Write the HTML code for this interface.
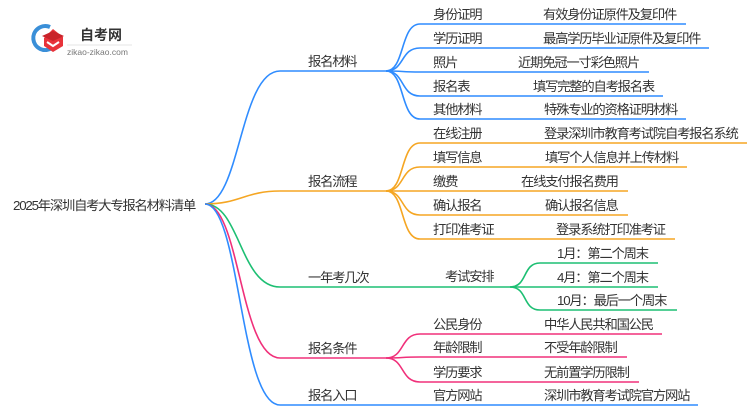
<!DOCTYPE html>
<html><head><meta charset="utf-8"><style>
html,body{margin:0;padding:0;background:#fff;}
svg{display:block;}
text{font-family:"Liberation Sans","Noto Sans CJK SC",sans-serif;font-size:13.3px;letter-spacing:-1.2px;fill:#333;}
</style></head><body>
<svg width="750" height="410" viewBox="0 0 750 410" xmlns="http://www.w3.org/2000/svg">
<!-- logo -->
<path d="M50 27 A12 12 0 1 0 52 48" fill="none" stroke="#3a8fd8" stroke-width="4"/>
<path d="M44 38 L53 29 L63 37 L63 46 L53 52 L44 46 Z" fill="#e8333a"/>
<path d="M42 36 L53 31 L64 36 L53 41 Z" fill="#c9232a"/>
<path d="M47 42 L53 46 L59 42" fill="none" stroke="#fff" stroke-width="2"/>
<text x="80" y="40" style="font-size:14px;letter-spacing:0;font-weight:bold;fill:#333">自考网</text>
<line x1="67" y1="45" x2="132" y2="45" stroke="#ddd" stroke-width="0.8"/>
<text x="67" y="55" style="font-size:8.5px;letter-spacing:0;fill:#777">zikao-zikao.com</text>

<g fill="none" stroke-width="1.6">
<path d="M205 204 C240 204 240 71 280 71 L386 71" stroke="#2f8cff"/>
<path d="M205 204 C240 204 245 191 280 191 L386 191" stroke="#f5a623"/>
<path d="M205 204 C240 204 240 287 280 287 L510 287" stroke="#1dbf73"/>
<path d="M205 204 C240 204 240 358 280 358 L386 358" stroke="#f0307a"/>
<path d="M205 204 C240 204 240 405 280 405 L698 405" stroke="#2f8cff"/>
<g stroke="#2f8cff">
<path d="M386 71 C405 71 400 24 420 24 L686 24"/>
<path d="M386 71 C405 71 400 48 420 48 L709 48"/>
<path d="M386 71 C405 71 400 72 420 72 L649 72"/>
<path d="M386 71 C405 71 400 96 420 96 L663 96"/>
<path d="M386 71 C405 71 400 119 420 119 L686 119"/>
</g>
<g stroke="#f5a623">
<path d="M386 191 C405 191 400 143 420 143 L747 143"/>
<path d="M386 191 C405 191 400 167 420 167 L687 167"/>
<path d="M386 191 C405 191 400 191 420 191 L628 191"/>
<path d="M386 191 C405 191 400 215 420 215 L628 215"/>
<path d="M386 191 C405 191 400 239 420 239 L675 239"/>
</g>
<g stroke="#1dbf73">
<path d="M510 287 C528 287 522 263 540 263 L658 263"/>
<path d="M510 287 C528 287 522 287 540 287 L658 287"/>
<path d="M510 287 C528 287 522 310 540 310 L677 310"/>
</g>
<g stroke="#f0307a">
<path d="M386 358 C405 358 400 334 420 334 L662 334"/>
<path d="M386 358 C405 358 400 357 420 357 L627 357"/>
<path d="M386 358 C405 358 400 382 420 382 L639 382"/>
</g>
</g>

<text x="13" y="210">2025年深圳自考大专报名材料清单</text>
<text x="308" y="66">报名材料</text>
<text x="308" y="186">报名流程</text>
<text x="308" y="282">一年考几次</text>
<text x="308" y="353">报名条件</text>
<text x="308" y="400">报名入口</text>

<text x="433" y="19">身份证明</text><text x="543" y="19">有效身份证原件及复印件</text>
<text x="433" y="43">学历证明</text><text x="543" y="43">最高学历毕业证原件及复印件</text>
<text x="433" y="67">照片</text><text x="518" y="67">近期免冠一寸彩色照片</text>
<text x="433" y="91">报名表</text><text x="533" y="91">填写完整的自考报名表</text>
<text x="433" y="114">其他材料</text><text x="544" y="114">特殊专业的资格证明材料</text>

<text x="433" y="138">在线注册</text><text x="544" y="138">登录深圳市教育考试院自考报名系统</text>
<text x="433" y="162">填写信息</text><text x="545" y="162">填写个人信息并上传材料</text>
<text x="433" y="186">缴费</text><text x="521" y="186">在线支付报名费用</text>
<text x="433" y="210">确认报名</text><text x="545" y="210">确认报名信息</text>
<text x="433" y="234">打印准考证</text><text x="556" y="234">登录系统打印准考证</text>

<text x="445" y="281">考试安排</text>
<text x="557" y="258">1月：第二个周末</text>
<text x="557" y="282">4月：第二个周末</text>
<text x="557" y="305">10月：最后一个周末</text>

<text x="433" y="329">公民身份</text><text x="544" y="329">中华人民共和国公民</text>
<text x="433" y="352">年龄限制</text><text x="544" y="352">不受年龄限制</text>
<text x="433" y="377">学历要求</text><text x="544" y="377">无前置学历限制</text>
<text x="433" y="400">官方网站</text><text x="544" y="400">深圳市教育考试院官方网站</text>
</svg>
</body></html>
